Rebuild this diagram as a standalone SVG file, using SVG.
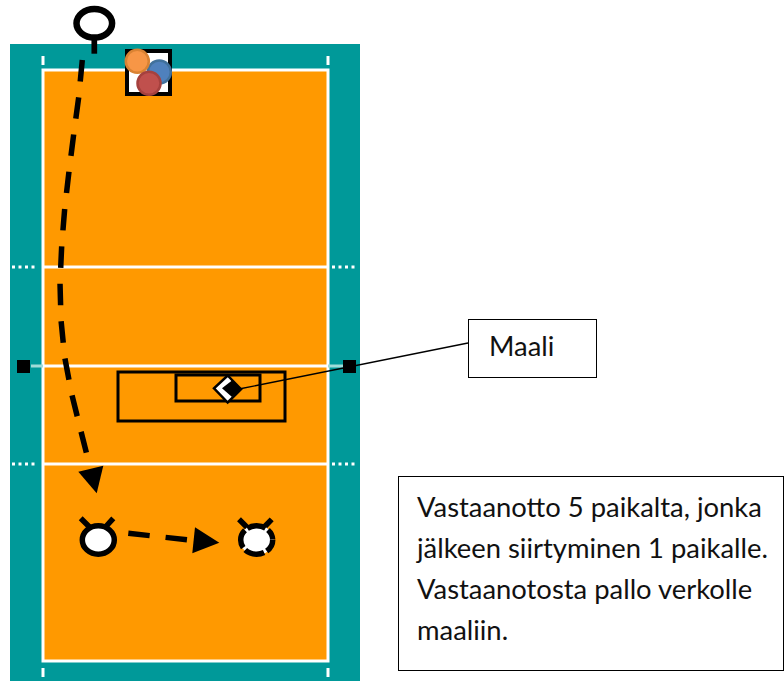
<svg xmlns="http://www.w3.org/2000/svg" width="784" height="681" viewBox="0 0 784 681">
<style>
.w{stroke:#fff;stroke-width:3;fill:none}
.dot{stroke:#fff;stroke-width:3;fill:none;stroke-dasharray:3 3.500}
.k{stroke:#000;fill:none}
.dash{stroke:#000;stroke-width:5.500;fill:none;stroke-linecap:butt;stroke-linejoin:round;stroke-dasharray:21.500 16}
.box{fill:#fff;stroke:#000;stroke-width:1}
text{font-family:Lato,"Open Sans","Liberation Sans",sans-serif;font-size:27.400px;fill:#111}
</style>
<g id="court">
<rect x="10" y="44" width="350" height="637" fill="#009999"/>
<rect x="43" y="70" width="285" height="591" fill="#ff9900" stroke="#fff" stroke-width="3"/>
<path class="w" d="M43 267H328M43 366H328M43 464H328"/>
<path d="M31 366H43M328 366H349" stroke="#9fdcd8" stroke-width="3"/>
<path class="w" d="M43 56V65M328 56V65M43 668V677M328 668V677"/>
<path class="dot" d="M12 267H37M332 267H358M12 464H37M332 464H358"/>
<rect x="17" y="360" width="13" height="13" fill="#000"/>
<rect x="343" y="360" width="13" height="13" fill="#000"/>
</g>
<g id="zones">
<rect class="k" x="118" y="372" width="167" height="49" stroke-width="3"/>
<rect class="k" x="176" y="375" width="84" height="26" stroke-width="3"/>
</g>
<g id="balls">
<rect x="127" y="51" width="43" height="43" fill="#fff" stroke="#000" stroke-width="4"/>
<circle cx="159.300" cy="72" r="11.500" fill="#4f81bd" stroke="#41719c" stroke-width="2.500"/>
<circle cx="137.300" cy="61.300" r="11.500" fill="#f79646" stroke="#d98233" stroke-width="2.500"/>
<circle cx="149" cy="83.300" r="11.500" fill="#c0504d" stroke="#a5413e" stroke-width="2.500"/>
</g>
<g id="player-top">
<ellipse cx="94.300" cy="23.300" rx="17.800" ry="14.300" fill="#fff" stroke="#000" stroke-width="6.500"/>
<path d="M94.300 38V53.700" stroke="#000" stroke-width="5.700"/>
</g>
<g id="player-left">
<path d="M80.700 518.300L90 527.500M113.300 518.300L105 527.500" stroke="#000" stroke-width="5.500"/>
<ellipse cx="98.300" cy="540" rx="16" ry="14.200" fill="#fff" stroke="#000" stroke-width="5.500"/>
</g>
<g id="player-right">
<path d="M239 519.300L247.700 528M271.700 519.300L263.300 528" stroke="#000" stroke-width="5.500"/>
<ellipse cx="256.700" cy="540" rx="17" ry="15" fill="#fff"/>
<ellipse cx="256.700" cy="540" rx="16" ry="14.200" fill="none" stroke="#000" stroke-width="5.500" stroke-dasharray="13 3 20 3 19 3 19 3 11"/>
</g>
<g id="goal">
<path d="M227.700 375.500L241 389.300L227.700 402.500L214 388.300Z" fill="#fff" stroke="#000" stroke-width="2.500"/>
<path d="M222 388.300L232 380.500L241.500 389.300L232 397Z" fill="#000"/>
</g>
<g id="connectors">
<path class="dash" d="M82.300 60L78.700 97.300L73.700 134.300L69 171.300L64.700 208.700L61.700 245.700L60 283L61 320L64.700 357.300L71.700 394L80.700 430.300L90 467"/>
<path d="M78.300 471.700L103.300 465.700L96.700 493.300Z" fill="#000"/>
<path class="dash" d="M128.300 533.300L187 539.700"/>
<path d="M195 527.300L219.300 542.700L192.300 553.300Z" fill="#000"/>
<path d="M468 343L239 389" stroke="#000" stroke-width="1.300"/>
</g>
<g id="label-maali">
<rect class="box" x="468.500" y="319.500" width="128" height="58"/>
<text x="489" y="356">Maali</text>
</g>
<g id="label-note">
<rect class="box" x="398.500" y="476.500" width="385" height="194"/>
<text x="417" y="517">Vastaanotto 5 paikalta, jonka</text>
<text x="417" y="557.500">jälkeen siirtyminen 1 paikalle.</text>
<text x="417" y="598.500">Vastaanotosta pallo verkolle</text>
<text x="417" y="640">maaliin.</text>
</g>
</svg>
